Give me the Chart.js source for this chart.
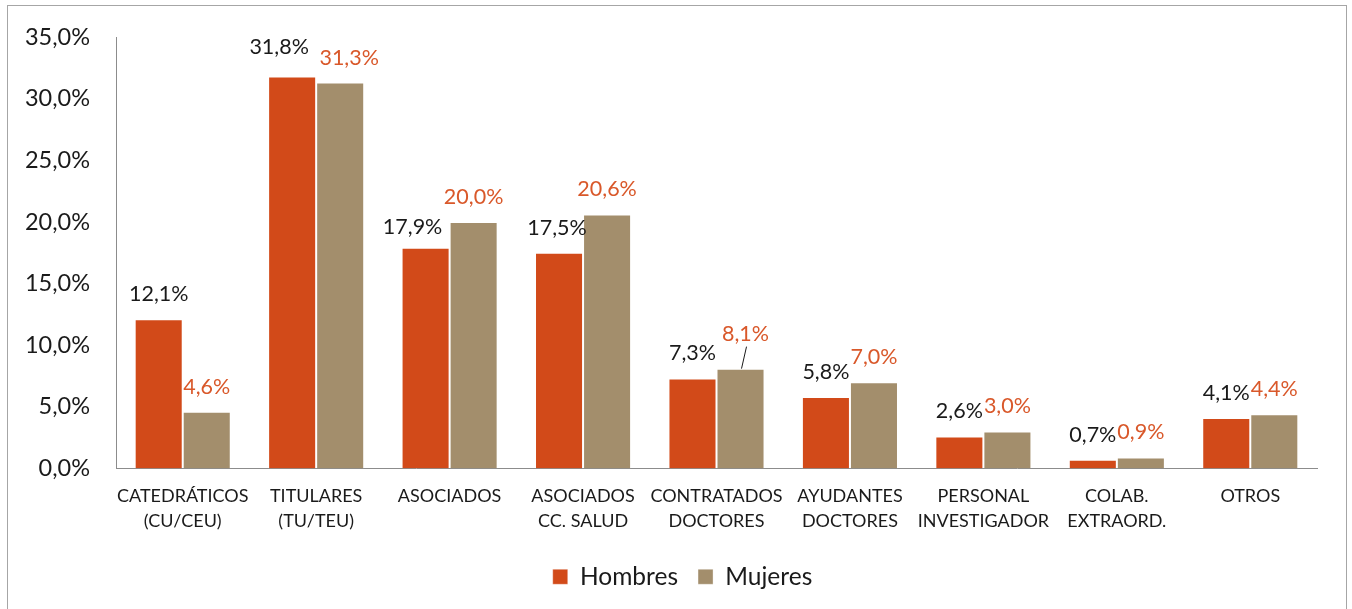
<!DOCTYPE html>
<html>
<head>
<meta charset="utf-8">
<script src="https://cdn.jsdelivr.net/npm/chart.js@4/dist/chart.umd.min.js"></script>
<style>
    html, body { margin: 0; padding: 0; background: #fff; }
    .frame {
        position: absolute;
        left: 7px;
        top: 5px;
        width: 1338px;
        height: 640px;
        border: 1px solid #a6a6a6;
    }
    #chart { position: absolute; left: 0; top: 0; }
</style>
</head>
<body>
<div class="frame"></div>
<canvas id="chart" width="1352" height="609"></canvas>
<script>
const categories = [
    ["CATEDRÁTICOS", "(CU/CEU)"],
    ["TITULARES", "(TU/TEU)"],
    "ASOCIADOS",
    ["ASOCIADOS", "CC. SALUD"],
    ["CONTRATADOS", "DOCTORES"],
    ["AYUDANTES", "DOCTORES"],
    ["PERSONAL", "INVESTIGADOR"],
    ["COLAB.", "EXTRAORD."],
    "OTROS",
];
const hombres = [12.1, 31.8, 17.9, 17.5, 7.3, 5.8, 2.6, 0.7, 4.1];
const mujeres = [4.6, 31.3, 20.0, 20.6, 8.1, 7.0, 3.0, 0.9, 4.4];
const yTicks = [0, 5, 10, 15, 20, 25, 30, 35];

const fontFamily = "Lato, 'Open Sans', sans-serif";
const colorHombres = "#d24a19";
const colorMujeres = "#a38e6c";

const fmt = (v) => v.toFixed(1).replace(".", ",") + "%";

// hand-placed labels in the original (dataset-index: [dx, dy])
const labelNudge = {
    "0-1": [-13, -4],
    "1-1": [9, 0],
    "0-2": [-13, 4],
    "0-3": [-2, 0],
    "1-4": [5, -10],
};

const valueLabels = {
    id: "valueLabels",
    afterLayout: function (chart) {
        // legend sits centred on the whole frame, not on the plot
        chart.legend.left += 24;
        chart.legend.right += 24;
    },
    afterDatasetsDraw: function (chart) {
        const ctx = chart.ctx;
        ctx.save();
        ctx.font = "21.5px " + fontFamily;
        ctx.textAlign = "center";
        ctx.textBaseline = "middle";
        chart.data.datasets.forEach((ds, di) => {
            const meta = chart.getDatasetMeta(di);
            meta.data.forEach((bar, i) => {
                const nudge = labelNudge[`${di}-${i}`] || [0, 0];
                const x = bar.x + nudge[0];
                const y = bar.y - 25 + nudge[1];
                ctx.fillStyle = di === 0 ? "#1a1a1a" : "#d9582a";
                ctx.fillText(fmt(ds.data[i]), x, y);
                if (di === 1 && i === 4) {
                    ctx.strokeStyle = "#1a1a1a";
                    ctx.lineWidth = 1;
                    ctx.beginPath();
                    ctx.moveTo(x + 1, y + 13);
                    ctx.lineTo(bar.x + 1, bar.y);
                    ctx.stroke();
                }
            });
        });
        ctx.restore();
    },
};

new Chart(document.getElementById("chart").getContext("2d"), {
    type: "bar",
    data: {
        labels: categories,
        datasets: [
            {
                label: "Hombres",
                data: hombres,
                backgroundColor: colorHombres,
                borderColor: "rgba(255,255,255,0.35)",
                borderWidth: 1,
                categoryPercentage: 0.72,
                barPercentage: 1,
            },
            {
                label: "Mujeres",
                data: mujeres,
                backgroundColor: colorMujeres,
                borderColor: "rgba(255,255,255,0.35)",
                borderWidth: 1,
                categoryPercentage: 0.72,
                barPercentage: 1,
            },
        ],
    },
    options: {
        responsive: false,
        animation: false,
        layout: { padding: { left: 0, top: 37, right: 35, bottom: 10 } },
        scales: {
            x: {
                grid: { display: false, drawTicks: false },
                border: { color: "#8c8c8c", width: 1 },
                ticks: {
                    color: "#1a1a1a",
                    padding: 15,
                    maxRotation: 0,
                    autoSkip: false,
                    font: { family: fontFamily, size: 18, lineHeight: 1.4 },
                },
                afterFit: function (scale) {
                    scale.height = 76;
                },
            },
            y: {
                min: 0,
                max: 35,
                grid: { display: false, drawTicks: false },
                border: { color: "#8c8c8c", width: 1 },
                afterBuildTicks: function (scale) {
                    scale.ticks = yTicks.map((v) => ({ value: v }));
                },
                ticks: {
                    color: "#1a1a1a",
                    padding: 26,
                    font: { family: fontFamily, size: 23.5 },
                    callback: (v) => fmt(v),
                },
                afterFit: function (scale) {
                    scale.width = 116;
                    scale.paddingTop = 10;
                    scale.paddingBottom = 10;
                },
            },
        },
        plugins: {
            legend: {
                position: "bottom",
                labels: {
                    color: "#1a1a1a",
                    boxWidth: 15,
                    boxHeight: 15,
                    padding: 20,
                    font: { family: fontFamily, size: 24.5 },
                },
            },
            tooltip: { enabled: false },
        },
    },
    plugins: [valueLabels],
});
</script>
</body>
</html>
